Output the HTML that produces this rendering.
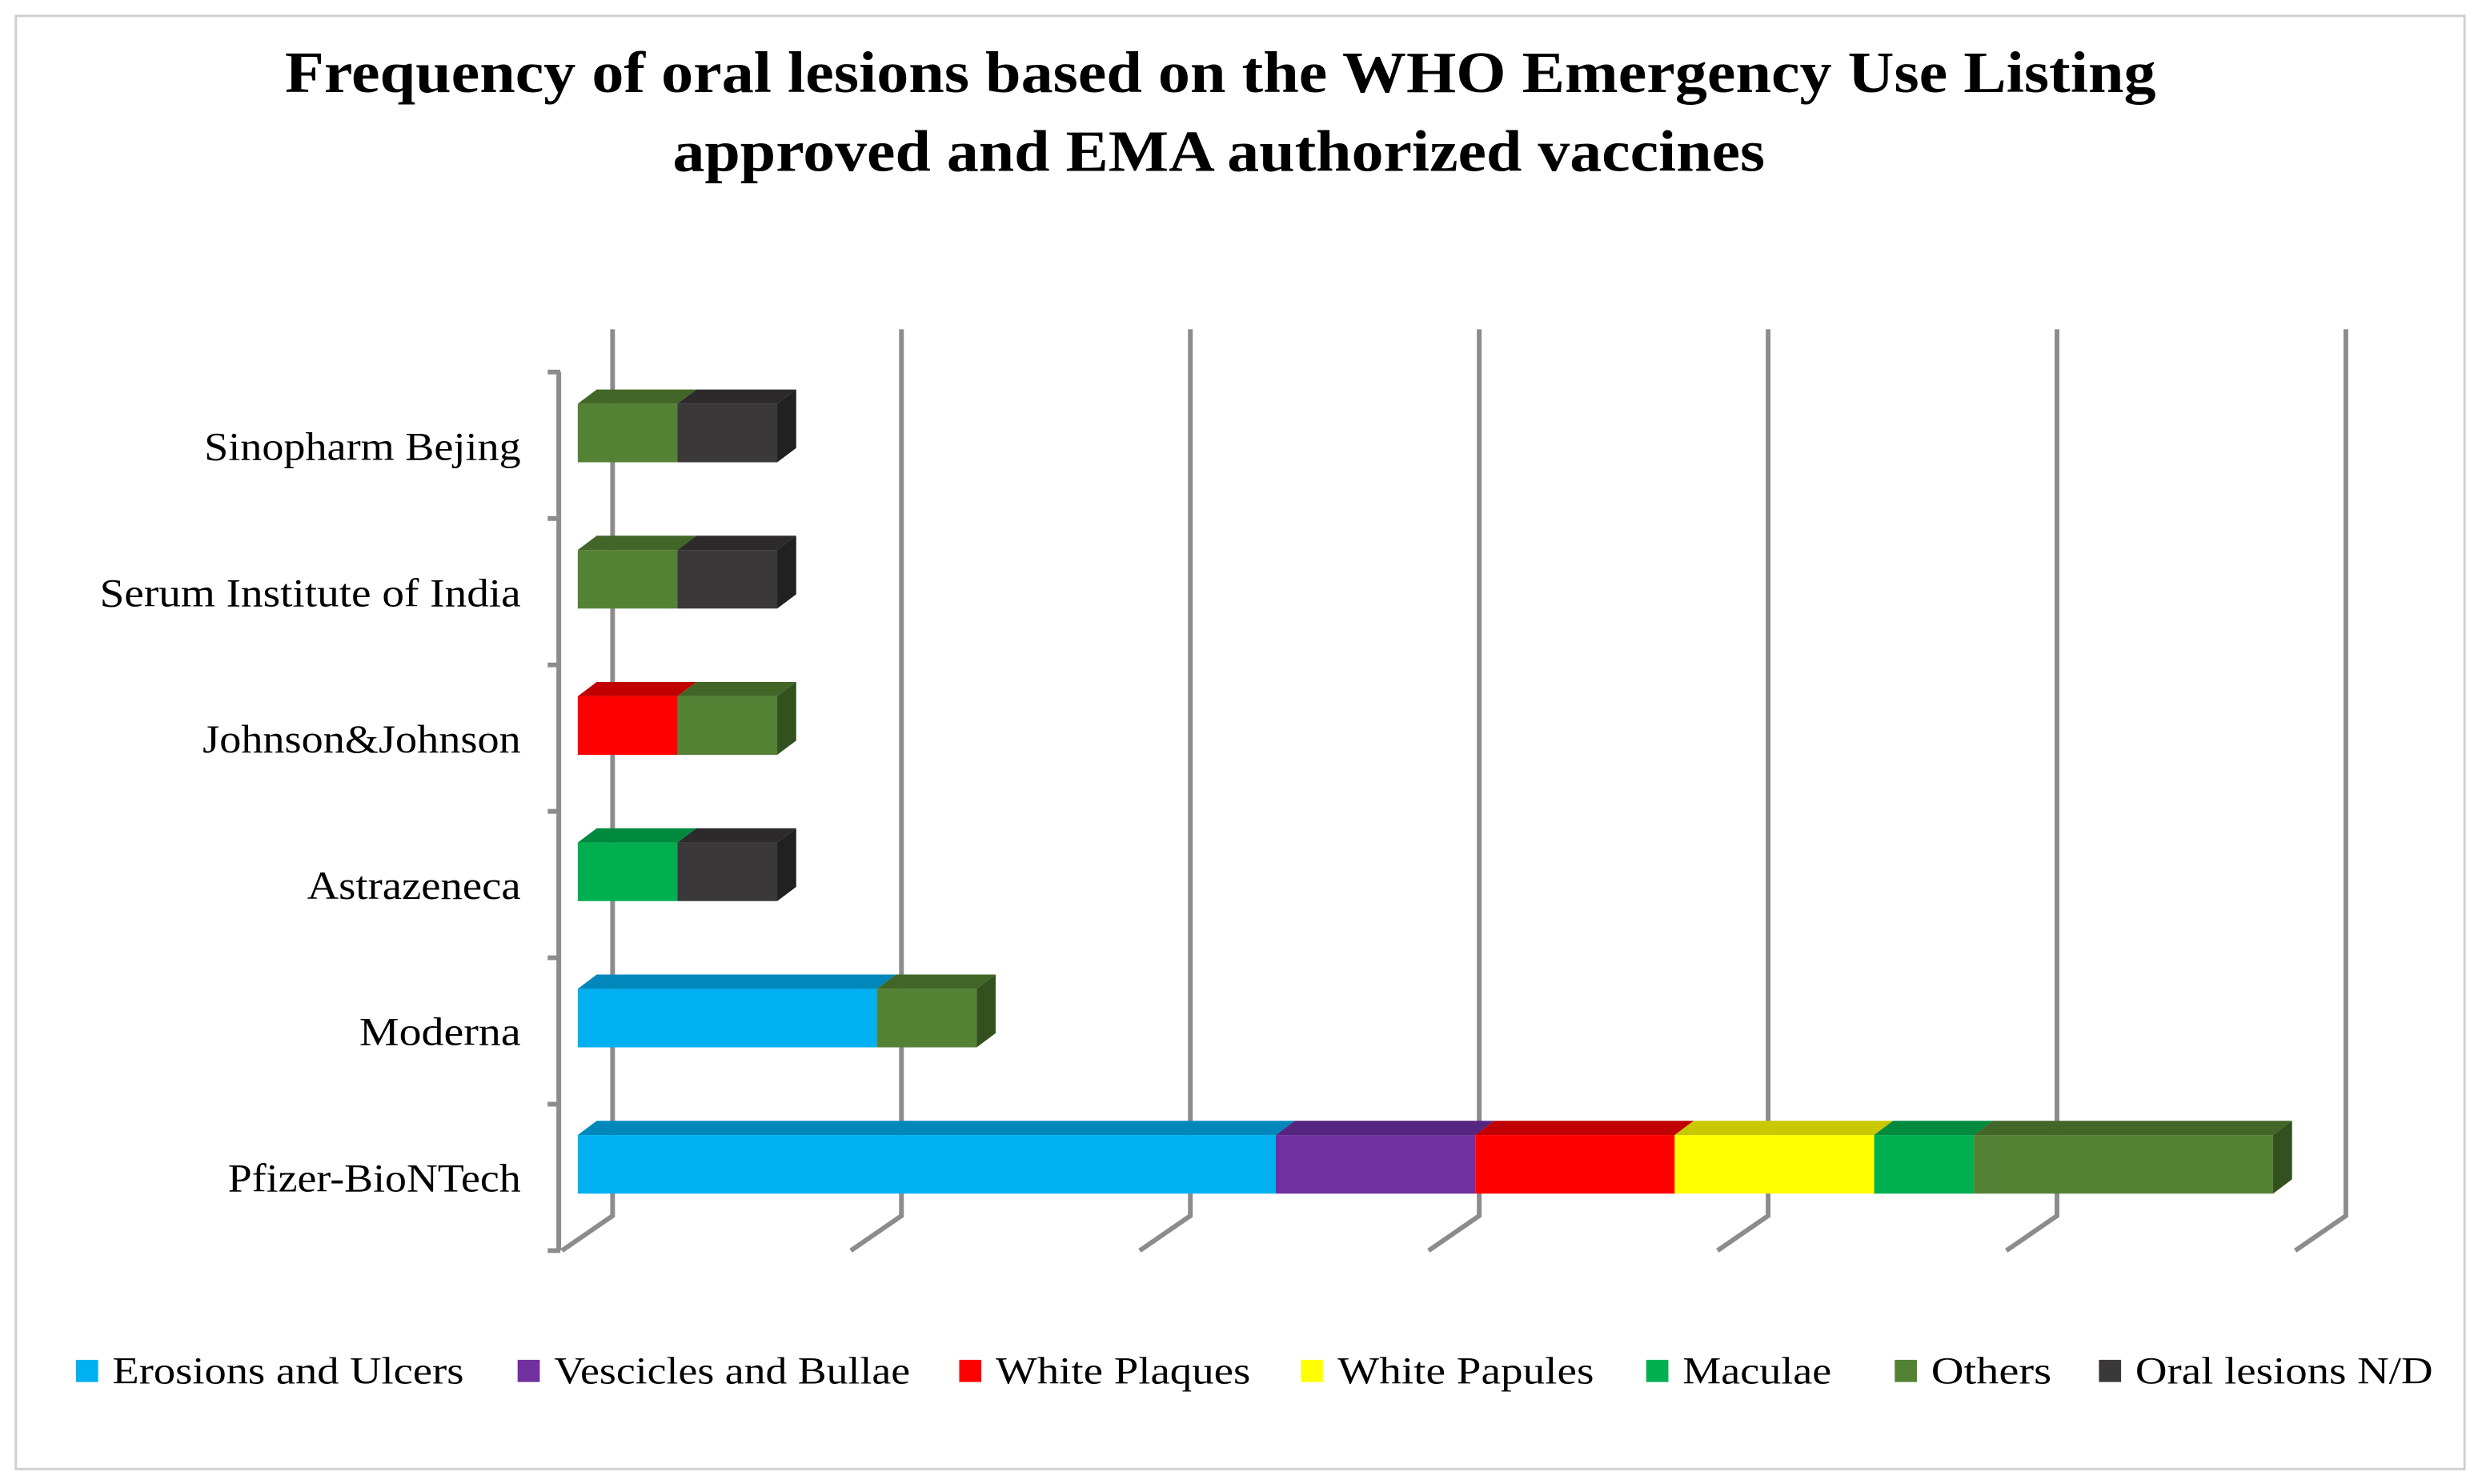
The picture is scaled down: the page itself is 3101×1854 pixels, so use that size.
<!DOCTYPE html>
<html><head><meta charset="utf-8"><style>
html,body{margin:0;padding:0;background:#fff}
svg{display:block}
</style></head><body>
<svg id="chart" width="3101" height="1854" viewBox="0 0 1568 937.4" xmlns="http://www.w3.org/2000/svg">
<rect x="10" y="10" width="1547" height="918" fill="#fff" stroke="#d0d0d0" stroke-width="1.5"/>
<text x="180" y="58" textLength="1182" lengthAdjust="spacingAndGlyphs" font-family="Liberation Serif, serif" font-weight="bold" font-size="37">Frequency of oral lesions based on the WHO Emergency Use Listing</text>
<text x="425" y="108" textLength="690" lengthAdjust="spacingAndGlyphs" font-family="Liberation Serif, serif" font-weight="bold" font-size="37">approved and EMA authorized vaccines</text>
<g id="grid"></g>
<g id="bars"></g>
<g id="labels"></g>
<g id="legend"></g>
</svg>
<script>
const categories = ["Sinopharm Bejing","Serum Institute of India","Johnson&Johnson","Astrazeneca","Moderna","Pfizer-BioNTech"];
const seriesNames = ["Erosions and Ulcers","Vescicles and Bullae","White Plaques","White Papules","Maculae","Others","Oral lesions N/D"];
const erosions = [0,0,0,0,3,7];
const vescicles = [0,0,0,0,0,2];
const plaques = [0,0,1,0,0,2];
const papules = [0,0,0,0,0,2];
const maculae = [0,0,0,1,0,1];
const others = [1,1,1,0,1,3];
const oralND = [1,1,0,1,0,0];
const gridTicks = [0,3,6,9,12,15,18];

const series=[erosions,vescicles,plaques,papules,maculae,others,oralND];
const colors=["#00B0F0","#7030A0","#FF0000","#FFFF00","#00B050","#548235","#3A3839"];
const tops=["#0088BA","#552580","#C00000","#C8C800","#008A3E","#416628","#2C2A2B"];
const sides=["#006E96","#441E66","#9A0000","#A0A000","#006E31","#33501F","#222122"];
const NS="http://www.w3.org/2000/svg";
function mk(tag,attrs,parent){const e=document.createElementNS(NS,tag);for(const k in attrs)e.setAttribute(k,attrs[k]);parent.appendChild(e);return e;}
const X0=365, UNIT=63, DX=12, DY=9;
function xs(v){return X0+v*UNIT;}
const GX0=387, GSTEP=182.5;
function gx(v){return GX0+(v/3)*GSTEP;}
const ROW0=255, ROWSTEP=92.4, BH=37;
function yr(i){return ROW0+i*ROWSTEP;}

const grid=document.getElementById('grid');
gridTicks.forEach((t,i)=>{
  const x=gx(t);
  const g=mk('path',{d:`M${x},208 L${x},768 L${x-32},790`,fill:'none',stroke:'#8c8c8c','stroke-width':3},grid);
  
  
});
const ax=mk('line',{x1:353,y1:235,x2:353,y2:790,stroke:'#8c8c8c','stroke-width':3},grid);


for(let i=0;i<=categories.length;i++){
  const y=235+i*(555/categories.length);
  const t=mk('line',{x1:346,y1:y,x2:354,y2:y,stroke:'#8c8c8c','stroke-width':3},grid);
  
  
}

const bars=document.getElementById('bars');
const labels=document.getElementById('labels');
const labelW=[200,266,201,135,102,185];
categories.forEach((c,i)=>{
  const y=yr(i);
  let acc=0; let last=-1;
  series.forEach((s,k)=>{
    const v=s[i]; if(!v) return;
    const xa=xs(acc), xb=xs(acc+v);
    const top=mk('polygon',{points:`${xa},${y} ${xa+DX},${y-DY} ${xb+DX},${y-DY} ${xb},${y}`,fill:tops[k]},bars);
    
    
    const r=mk('rect',{x:xa,y:y,width:xb-xa,height:BH,fill:colors[k]},bars);
    
    
    acc+=v; last=k;
  });
  if(last>=0){
    const xe=xs(acc);
    const side=mk('polygon',{points:`${xe},${y} ${xe+DX},${y-DY} ${xe+DX},${y+BH-DY} ${xe},${y+BH}`,fill:sides[last]},bars);
    
    
  }
  const t=mk('text',{x:329-labelW[i],y:y+BH/2+17,textLength:labelW[i],lengthAdjust:'spacingAndGlyphs','font-family':'Liberation Serif, serif','font-size':25,fill:'#000'},labels);
  t.textContent=c;
  
  
});

const legend=document.getElementById('legend');
const lx=[48,327,606,822,1040,1197,1326];
const lw=[222,225,161,162,94,76,188];
seriesNames.forEach((n,k)=>{
  const r=mk('rect',{x:lx[k],y:859,width:14,height:14,fill:colors[k]},legend);
  
  
  const t=mk('text',{x:lx[k]+23,y:874,textLength:lw[k],lengthAdjust:'spacingAndGlyphs','font-family':'Liberation Serif, serif','font-size':24,fill:'#000'},legend);
  t.textContent=n;
  
  
});
</script>
</body></html>
